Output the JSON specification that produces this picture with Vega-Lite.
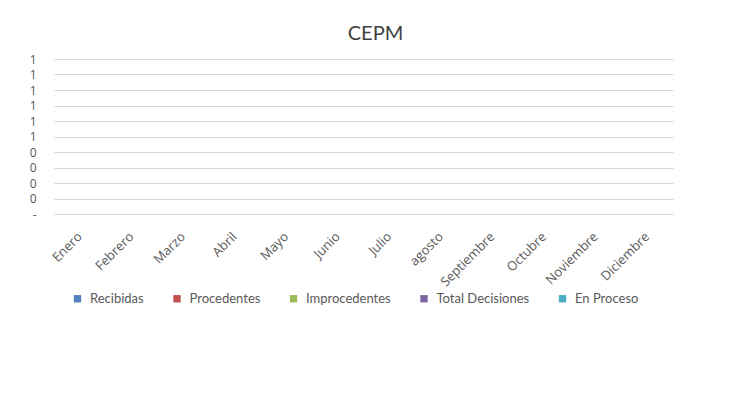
{
  "$schema": "https://vega.github.io/schema/vega-lite/v6.json",
  "width": 619,
  "height": 155,
  "autosize": {"type": "none"},
  "padding": {"left": 54, "top": 59, "right": 62, "bottom": 194},
  "background": "white",
  "title": {"text": "CEPM", "font": "Lato", "fontSize": 20, "fontWeight": "normal", "color": "#404040", "anchor": "middle", "dx": 12, "baseline": "alphabetic", "offset": -7},
  "data": {"values": [
    {"mes": "Enero", "serie": "Recibidas", "valor": 0},
    {"mes": "Enero", "serie": "Procedentes", "valor": 0},
    {"mes": "Enero", "serie": "Improcedentes", "valor": 0},
    {"mes": "Enero", "serie": "Total Decisiones", "valor": 0},
    {"mes": "Enero", "serie": "En Proceso", "valor": 0},
    {"mes": "Febrero", "serie": "Recibidas", "valor": 0},
    {"mes": "Febrero", "serie": "Procedentes", "valor": 0},
    {"mes": "Febrero", "serie": "Improcedentes", "valor": 0},
    {"mes": "Febrero", "serie": "Total Decisiones", "valor": 0},
    {"mes": "Febrero", "serie": "En Proceso", "valor": 0},
    {"mes": "Marzo", "serie": "Recibidas", "valor": 0},
    {"mes": "Marzo", "serie": "Procedentes", "valor": 0},
    {"mes": "Marzo", "serie": "Improcedentes", "valor": 0},
    {"mes": "Marzo", "serie": "Total Decisiones", "valor": 0},
    {"mes": "Marzo", "serie": "En Proceso", "valor": 0},
    {"mes": "Abril", "serie": "Recibidas", "valor": 0},
    {"mes": "Abril", "serie": "Procedentes", "valor": 0},
    {"mes": "Abril", "serie": "Improcedentes", "valor": 0},
    {"mes": "Abril", "serie": "Total Decisiones", "valor": 0},
    {"mes": "Abril", "serie": "En Proceso", "valor": 0},
    {"mes": "Mayo", "serie": "Recibidas", "valor": 0},
    {"mes": "Mayo", "serie": "Procedentes", "valor": 0},
    {"mes": "Mayo", "serie": "Improcedentes", "valor": 0},
    {"mes": "Mayo", "serie": "Total Decisiones", "valor": 0},
    {"mes": "Mayo", "serie": "En Proceso", "valor": 0},
    {"mes": "Junio", "serie": "Recibidas", "valor": 0},
    {"mes": "Junio", "serie": "Procedentes", "valor": 0},
    {"mes": "Junio", "serie": "Improcedentes", "valor": 0},
    {"mes": "Junio", "serie": "Total Decisiones", "valor": 0},
    {"mes": "Junio", "serie": "En Proceso", "valor": 0},
    {"mes": "Julio", "serie": "Recibidas", "valor": 0},
    {"mes": "Julio", "serie": "Procedentes", "valor": 0},
    {"mes": "Julio", "serie": "Improcedentes", "valor": 0},
    {"mes": "Julio", "serie": "Total Decisiones", "valor": 0},
    {"mes": "Julio", "serie": "En Proceso", "valor": 0},
    {"mes": "agosto", "serie": "Recibidas", "valor": 0},
    {"mes": "agosto", "serie": "Procedentes", "valor": 0},
    {"mes": "agosto", "serie": "Improcedentes", "valor": 0},
    {"mes": "agosto", "serie": "Total Decisiones", "valor": 0},
    {"mes": "agosto", "serie": "En Proceso", "valor": 0},
    {"mes": "Septiembre", "serie": "Recibidas", "valor": 0},
    {"mes": "Septiembre", "serie": "Procedentes", "valor": 0},
    {"mes": "Septiembre", "serie": "Improcedentes", "valor": 0},
    {"mes": "Septiembre", "serie": "Total Decisiones", "valor": 0},
    {"mes": "Septiembre", "serie": "En Proceso", "valor": 0},
    {"mes": "Octubre", "serie": "Recibidas", "valor": 0},
    {"mes": "Octubre", "serie": "Procedentes", "valor": 0},
    {"mes": "Octubre", "serie": "Improcedentes", "valor": 0},
    {"mes": "Octubre", "serie": "Total Decisiones", "valor": 0},
    {"mes": "Octubre", "serie": "En Proceso", "valor": 0},
    {"mes": "Noviembre", "serie": "Recibidas", "valor": 0},
    {"mes": "Noviembre", "serie": "Procedentes", "valor": 0},
    {"mes": "Noviembre", "serie": "Improcedentes", "valor": 0},
    {"mes": "Noviembre", "serie": "Total Decisiones", "valor": 0},
    {"mes": "Noviembre", "serie": "En Proceso", "valor": 0},
    {"mes": "Diciembre", "serie": "Recibidas", "valor": 0},
    {"mes": "Diciembre", "serie": "Procedentes", "valor": 0},
    {"mes": "Diciembre", "serie": "Improcedentes", "valor": 0},
    {"mes": "Diciembre", "serie": "Total Decisiones", "valor": 0},
    {"mes": "Diciembre", "serie": "En Proceso", "valor": 0}
  ]},
  "mark": {"type": "bar"},
  "encoding": {
    "x": {
      "field": "mes", "type": "nominal", "sort": null,
      "scale": {"paddingInner": 0.3, "paddingOuter": 0.15},
      "axis": {"title": null, "labelAngle": -45, "labelFont": "Open Sans", "labelFontSize": 13, "labelColor": "#595959", "ticks": false, "domain": false, "labelPadding": 16, "labelOffset": -4, "grid": false}
    },
    "xOffset": {"field": "serie", "type": "nominal", "sort": ["Recibidas", "Procedentes", "Improcedentes", "Total Decisiones", "En Proceso"]},
    "y": {
      "field": "valor", "type": "quantitative",
      "scale": {"domain": [0, 1], "nice": false, "zero": true},
      "axis": {
        "title": null,
        "values": [0, 0.1, 0.2, 0.3, 0.4, 0.5, 0.6, 0.7, 0.8, 0.9, 1],
        "labelExpr": "datum.value == 0 ? '-\u00a0\u00a0' : (datum.value < 0.45 ? '0' : '1')",
        "labelFont": "Open Sans", "labelFontSize": 12, "labelColor": "#595959",
        "ticks": false, "domain": false, "labelPadding": 18,
        "grid": true, "gridColor": "#d9d9d9", "gridWidth": 1
      }
    },
    "color": {
      "field": "serie", "type": "nominal",
      "sort": ["Recibidas", "Procedentes", "Improcedentes", "Total Decisiones", "En Proceso"],
      "scale": {"domain": ["Recibidas", "Procedentes", "Improcedentes", "Total Decisiones", "En Proceso"], "range": ["#4F81BD", "#C0504D", "#9BBB59", "#8064A2", "#4BACC6"]},
      "legend": {
        "title": null, "orient": "none", "direction": "horizontal",
        "legendX": 17, "legendY": 233, "padding": 0,
        "symbolType": "square", "symbolSize": 54, "symbolStrokeWidth": 0,
        "labelFont": "Lato", "labelFontSize": 13, "labelColor": "#595959",
        "labelOffset": 6, "columnPadding": 26.5
      }
    }
  },
  "config": {"view": {"stroke": null}}
}
